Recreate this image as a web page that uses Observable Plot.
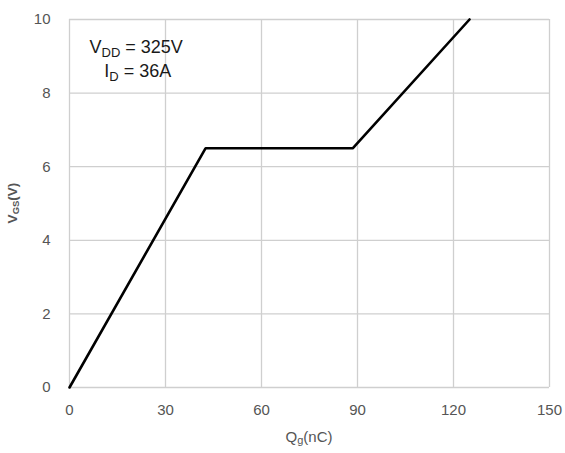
<!DOCTYPE html>
<html>
<head>
<meta charset="utf-8">
<script src="https://cdn.jsdelivr.net/npm/d3@7"></script>
<script src="https://cdn.jsdelivr.net/npm/@observablehq/plot@0.6"></script>
<style>
  html, body { margin: 0; padding: 0; background: #fff; }
  svg { font-family: "Liberation Sans", Arial, sans-serif; }
</style>
</head>
<body>
<div id="chart"></div>
<script>
// Data
const qg = [0, 42.5, 88.5, 125];        // Qg (nC)
const vgs = [0, 6.5, 6.5, 10];          // VGS (V)
const xTicks = [0, 30, 60, 90, 120, 150];
const yTicks = [0, 2, 4, 6, 8, 10];
const annoLines = [
  {x: 21, y: 9.08, parts: [["V", false], ["DD", true], [" = 325V", false]]},
  {x: 21.5, y: 8.42, parts: [["I", false], ["D", true], [" = 36A", false]]}
];

const data = qg.map((q, i) => ({q, v: vgs[i]}));
const gridColor = "#cfcfcf";
const labelColor = "#555555";

const chart = Plot.plot({
  width: 565,
  height: 453,
  marginLeft: 69,
  marginRight: 16,
  marginTop: 19,
  marginBottom: 66,
  style: {fontFamily: "'Liberation Sans', Arial, sans-serif", background: "#fff"},
  x: {domain: [0, 150]},
  y: {domain: [0, 10]},
  marks: [
    Plot.gridX(xTicks, {stroke: gridColor, strokeOpacity: 1, strokeWidth: 1.3}),
    Plot.gridY(yTicks, {stroke: gridColor, strokeOpacity: 1, strokeWidth: 1.3}),
    Plot.axisX({ticks: xTicks, tickSize: 0, tickPadding: 17, label: null, fontSize: 15, fill: labelColor}),
    Plot.axisY({ticks: yTicks, tickSize: 0, tickPadding: 19, label: null, fontSize: 15, fill: labelColor}),
    Plot.line(data, {x: "q", y: "v", stroke: "#000", strokeWidth: 2.6, strokeLinejoin: "miter"})
  ]
});

document.getElementById("chart").appendChild(chart);

const svg = d3.select(chart);
const sx = chart.scale("x"), sy = chart.scale("y");

// Annotation with subscripts
for (const line of annoLines) {
  const t = svg.append("text")
    .attr("x", sx.apply(line.x))
    .attr("y", sy.apply(line.y))
    .attr("text-anchor", "middle")
    .attr("font-size", 18)
    .attr("fill", "#1a1a1a");
  for (const [s, sub] of line.parts) {
    const ts = t.append("tspan").text(s);
    if (sub) ts.attr("font-size", 13).attr("dy", 4);
    else ts.attr("dy", t.selectAll("tspan").size() > 1 ? -4 : 0);
  }
}

// X axis label: Qg(nC)
const xl = svg.append("text")
  .attr("x", (sx.apply(0) + sx.apply(150)) / 2)
  .attr("y", 442)
  .attr("text-anchor", "middle")
  .attr("font-size", 15)
  .attr("fill", labelColor);
xl.append("tspan").text("Q");
xl.append("tspan").text("g").attr("font-size", 11).attr("dy", 2);
xl.append("tspan").text("(nC)").attr("dy", -2);

// Y axis label: VGS(V)
const ymid = (sy.apply(0) + sy.apply(10)) / 2;
const yl = svg.append("text")
  .attr("transform", `translate(17,${ymid}) rotate(-90)`)
  .attr("text-anchor", "middle")
  .attr("font-size", 13.5)
  .attr("font-weight", "bold")
  .attr("fill", labelColor);
yl.append("tspan").text("V");
yl.append("tspan").text("GS").attr("font-size", 9.5).attr("dy", 2);
yl.append("tspan").text("(V)").attr("dy", -2);
</script>
</body>
</html>
